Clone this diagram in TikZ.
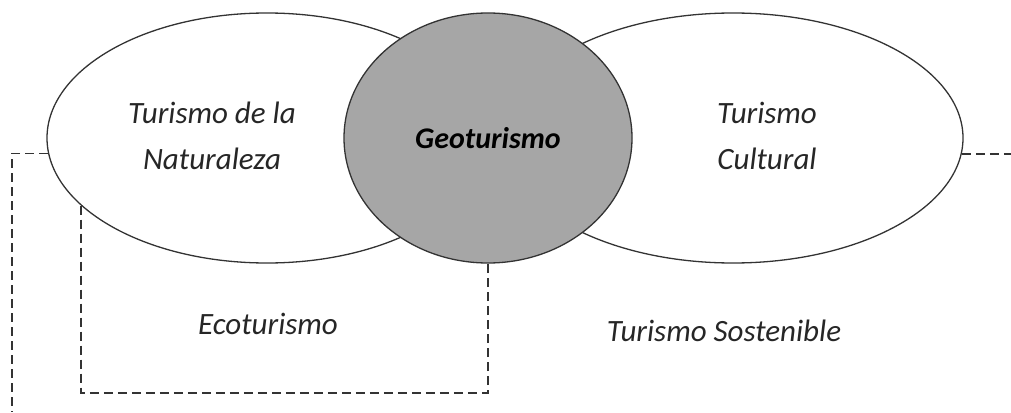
\documentclass[tikz,border=0pt]{standalone}
\usepackage{fontspec}
\setmainfont{Carlito}
\usetikzlibrary{shapes,arrows}
\tikzstyle{zone} = [ellipse, draw=black!80, line width=1.3pt, minimum height=250pt]
\tikzstyle{core} = [zone, fill=black!35, minimum width=288pt, font=\fontsize{30}{34}\selectfont\bfseries\itshape]
\tikzstyle{txt} = [align=center, text=black!85, font=\fontsize{31}{46}\selectfont\itshape]
\tikzstyle{dashline} = [draw=black!80, line width=1.3pt, dash pattern=on 9pt off 5pt]

\begin{document}
\begin{tikzpicture}[x=1pt, y=-1pt]
		\useasboundingbox (0,0) rectangle (1011,412);
		\node [zone, minimum width=440pt] (natur) at (267,138) {};
		\node [zone, minimum width=460pt] (cult) at (733,138) {};
		\node [core] (geo) at (488,138) {Geoturismo};
		\node [txt] (naturtxt) at (212,136) {Turismo de la\\Naturaleza};
		\node [txt] (culttxt) at (767,136) {Turismo\\Cultural};
		\node [txt] (eco) at (268,324) {Ecoturismo};
		\node [txt] (sost) at (724,331) {Turismo Sostenible};
		\coordinate (outerend) at (12,412);
		\coordinate (rightend) at (1011,152);
		\coordinate (ecocorner) at (488,393);

		\path [dashline] (natur.184) -| (outerend);
		\path [dashline] (cult.-4) -- (cult.-4 -| rightend);
		\path [dashline] (natur.200) |- (ecocorner) -- (geo.south);
	\end{tikzpicture}
\end{document}
